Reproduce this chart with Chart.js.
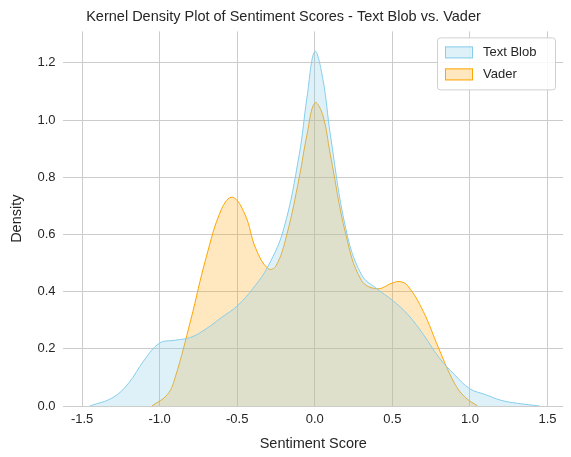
<!DOCTYPE html>
<html>
<head>
<meta charset="utf-8">
<script src="https://cdn.jsdelivr.net/npm/chart.js@4"></script>
<style>
  html, body { margin: 0; padding: 0; background: #fff; }
  #wrap { width: 571px; height: 457px; }
</style>
</head>
<body>
<div id="wrap"><canvas id="kde"></canvas></div>
<script>
// ── data ───────────────────────────────────────────────────────────
const blobX = [-1.45, -1.3, -1.2, -1.1, -1.0, -0.9, -0.8, -0.7, -0.6, -0.5, -0.4, -0.3, -0.2, -0.1, -0.05, 0.0, 0.05, 0.1, 0.2, 0.3, 0.4, 0.5, 0.6, 0.7, 0.8, 0.9, 1.0, 1.1, 1.2, 1.3, 1.45];
const blobY = [0.0, 0.03, 0.08, 0.16, 0.22, 0.23, 0.24, 0.27, 0.31, 0.35, 0.41, 0.49, 0.62, 0.88, 1.08, 1.24, 1.15, 0.95, 0.62, 0.46, 0.41, 0.37, 0.32, 0.25, 0.17, 0.11, 0.06, 0.04, 0.02, 0.01, 0.0];

const vaderX = [-1.05, -0.95, -0.9, -0.8, -0.7, -0.6, -0.53, -0.45, -0.38, -0.3, -0.25, -0.18, -0.1, -0.05, 0.0, 0.05, 0.1, 0.2, 0.3, 0.4, 0.5, 0.55, 0.6, 0.7, 0.8, 0.9, 0.97, 1.05];
const vaderY = [0.0, 0.04, 0.1, 0.3, 0.52, 0.69, 0.73, 0.67, 0.55, 0.48, 0.49, 0.6, 0.8, 0.95, 1.06, 1.02, 0.88, 0.6, 0.44, 0.41, 0.43, 0.435, 0.42, 0.33, 0.2, 0.08, 0.03, 0.0];

const xTicks = [-1.5, -1.0, -0.5, 0.0, 0.5, 1.0, 1.5];
const yTicks = [0.0, 0.2, 0.4, 0.6, 0.8, 1.0, 1.2];

const pts = (xs, ys) => xs.map((x, i) => ({ x, y: ys[i] }));

const txt = '#262626';
const font = 'Liberation Sans, Arial, sans-serif';

// legend box in the top-right corner of the plot, matplotlib style
const cornerLegend = {
  id: 'cornerLegend',
  afterDraw(chart) {
    const { ctx, chartArea } = chart;
    const sets = chart.data.datasets;
    const w = 118, rowH = 22, h = sets.length * rowH + 8;
    const x0 = chartArea.right - w - 8, y0 = chartArea.top + 6;
    ctx.save();
    ctx.fillStyle = 'rgba(255,255,255,0.85)';
    ctx.strokeStyle = '#d0d0d0';
    ctx.lineWidth = 1;
    ctx.beginPath();
    ctx.roundRect(x0 + 0.5, y0 + 0.5, w, h, 3);
    ctx.fill(); ctx.stroke();
    ctx.font = '13px ' + font;
    ctx.textBaseline = 'middle';
    sets.forEach((ds, i) => {
      const cy = y0 + 4 + rowH * i + rowH / 2;
      ctx.fillStyle = ds.backgroundColor;
      ctx.strokeStyle = ds.borderColor;
      ctx.fillRect(x0 + 8, cy - 6, 28, 12);
      ctx.strokeRect(x0 + 8.5, cy - 5.5, 27, 11);
      ctx.fillStyle = txt;
      ctx.fillText(ds.label, x0 + 46, cy);
    });
    ctx.restore();
  },
};

new Chart(document.getElementById('kde'), {
  type: 'line',
  data: {
    datasets: [
      {
        label: 'Text Blob',
        data: pts(blobX, blobY),
        borderColor: '#87ceeb',
        backgroundColor: 'rgba(135,206,235,0.28)',
        borderWidth: 1,
        fill: 'origin',
        pointRadius: 0,
        tension: 0.4,
      },
      {
        label: 'Vader',
        data: pts(vaderX, vaderY),
        borderColor: '#ffa500',
        backgroundColor: 'rgba(255,165,0,0.25)',
        borderWidth: 1,
        fill: 'origin',
        pointRadius: 0,
        tension: 0.4,
      },
    ],
  },
  plugins: [cornerLegend],
  options: {
    responsive: true,
    maintainAspectRatio: false,
    animation: false,
    layout: { padding: { left: 4, right: 8, top: 0, bottom: 0 } },
    plugins: {
      title: {
        display: true,
        text: 'Kernel Density Plot of Sentiment Scores - Text Blob vs. Vader',
        color: txt, font: { family: font, size: 14.5, weight: 'normal' },
        padding: { top: 8, bottom: 6 },
      },
      legend: { display: false },
      tooltip: { enabled: false },
    },
    scales: {
      x: {
        type: 'linear',
        min: -1.62, max: 1.6,
        afterBuildTicks: ax => { ax.ticks = xTicks.map(v => ({ value: v })); },
        ticks: { color: txt, font: { family: font, size: 13 }, callback: v => v.toFixed(1), padding: 6 },
        grid: { color: '#cccccc', drawTicks: false },
        border: { display: false },
        title: { display: true, text: 'Sentiment Score', color: txt, font: { family: font, size: 14.5 }, padding: { top: 2, bottom: 4 } },
      },
      y: {
        min: 0, max: 1.31,
        afterBuildTicks: ax => { ax.ticks = yTicks.map(v => ({ value: v })); },
        ticks: { color: txt, font: { family: font, size: 13 }, callback: v => v.toFixed(1), padding: 8 },
        grid: { color: '#cccccc', drawTicks: false },
        border: { display: false },
        title: { display: true, text: 'Density', color: txt, font: { family: font, size: 14.5 } },
      },
    },
  },
});
</script>
</body>
</html>
